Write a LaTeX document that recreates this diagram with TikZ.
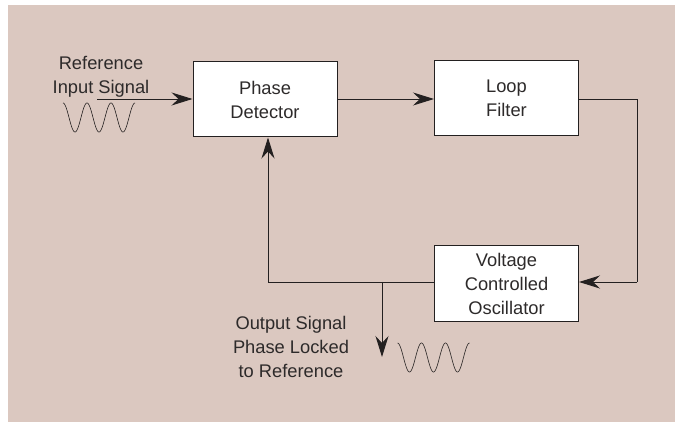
\documentclass[tikz,border=0pt]{standalone}
\usepackage{fontspec}
\setmainfont{Liberation Sans}
\usetikzlibrary{arrows.meta}
\definecolor{bg}{RGB}{219,200,192}
\definecolor{ln}{RGB}{35,32,32}
\definecolor{tx}{RGB}{45,42,42}
\begin{document}
\begin{tikzpicture}[x=1pt,y=-1pt,
  blk/.style={draw=ln,line width=1pt,fill=white,minimum width=144pt,minimum height=75pt,inner sep=0pt,align=center,font=\fontsize{18.3}{24}\selectfont,text=tx},
  lbl/.style={align=center,font=\fontsize{18.3}{23.7}\selectfont,text=tx,inner sep=0pt},
  conn/.style={draw=ln,line width=0.9pt},
  arr/.style={conn,-{Stealth[length=21pt,width=13pt,inset=7pt]}}]
\useasboundingbox (0,0) rectangle (675,422);
\fill[bg] (8,5) rectangle (675,422);
\node[blk] (pd) at (265,99.5) {Phase\\Detector};
\node[blk] (lf) at (506.5,98.5) {Loop\\Filter};
\node[blk] (vco) at (506.5,283.5) {Voltage\\Controlled\\Oscillator};
\node[lbl] (inlbl) at (101,76.5) {Reference\\Input Signal};
\node[lbl] (outlbl) at (291,347) {Output Signal\\Phase Locked\\to Reference};
\coordinate (in) at (97,99);
\coordinate (c1) at (637,99);
\coordinate (c2) at (637,282);
\coordinate (c3) at (268,282);
\coordinate (br) at (382,282);
\coordinate (out) at (382,357);
\draw[arr] (in) -- (in -| pd.west);
\draw[arr] (pd.east |- 0,99) -- (lf.west |- 0,99);
\draw[conn] (lf.east |- c1) -- (c1) -- (c2);
\draw[arr] (c2) -- (c2 -| vco.east);
\draw[conn] (vco.west |- c3) -- (c3);
\draw[arr] (c3) -- (c3 |- pd.south);
\draw[arr] (br) -- (out);
\draw[ln,line width=0.6pt,domain=0:72,samples=150,smooth] plot ({63+\x},{117.5-14.5*cos(\x*15)});
\draw[ln,line width=0.6pt,domain=0:72,samples=150,smooth] plot ({397.5+\x},{357.5-14.5*cos(\x*15)});
\end{tikzpicture}
\end{document}
